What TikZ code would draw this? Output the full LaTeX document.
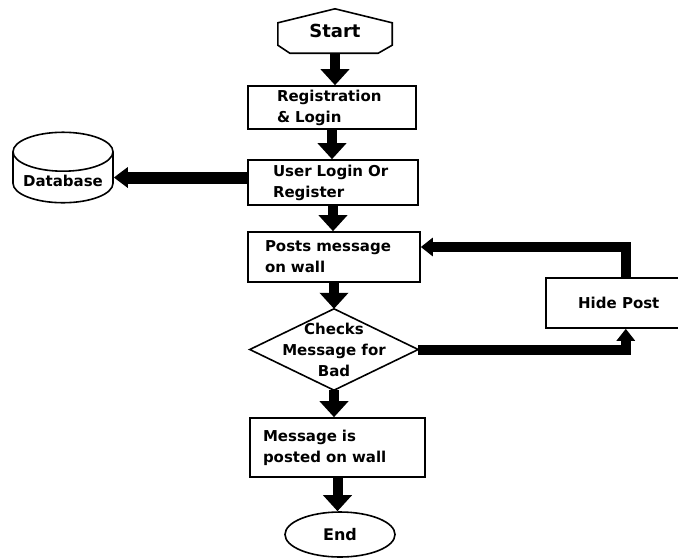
\documentclass[tikz,border=0pt]{standalone}
\usepackage{fontspec}
\setmainfont{DejaVu Sans}
\usetikzlibrary{positioning,arrows.meta,shapes.geometric}

\begin{document}
\begin{tikzpicture}[
    x=1pt, y=-1pt,
    font=\bfseries\fontsize{15}{21}\selectfont,
    box/.style={
        draw,
        line width=1.6pt,
        align=left,
        inner ysep=3pt
    },
    outline/.style={
        line width=1.6pt
    },
    flow/.style={
        line width=10pt,
        -{Triangle[length=16pt,width=28pt]}
    },
    back/.style={
        line width=10pt,
        -{Triangle[length=12pt,width=18pt]}
    },
    dbarrow/.style={
        line width=12pt,
        -{Triangle[length=14pt,width=20pt]}
    }
]
    \useasboundingbox (0,0) rectangle (678,558);

    % Main flow
    \node[minimum width=114pt, minimum height=44pt, font=\bfseries\fontsize{18}{20}\selectfont] (start) at (335,31) {Start};
    \node[box, text width=110pt, inner xsep=29pt, minimum height=43pt] (reg) at (332,107.5) {Registration\\\& Login};
    \node[box, text width=120pt, inner xsep=25pt, minimum height=45pt] (user) at (333,182.5) {User Login Or\\Register};
    \node[box, text width=138pt, inner xsep=17pt, minimum height=50pt] (posts) at (334,257) {Posts message\\on wall};
    \node[minimum width=168pt, minimum height=81pt, align=center, inner sep=0pt] (check) at (334,349.5) {Checks\\Message for\\Bad};
    \node[box, text width=149pt, inner xsep=13pt, minimum height=59pt] (msg) at (337.5,447.5) {Message is\\posted on wall};
    \node[draw, ellipse, outline, minimum width=110pt, minimum height=45pt, font=\bfseries\fontsize{16}{18}\selectfont] (stop) at (340,534.5) {End};

    % Side nodes
    \node[draw, cylinder, shape border rotate=90, aspect=0.45, outline, minimum width=100pt, minimum height=46pt, anchor=shape center] (db) at (63,167.5) {Database};
    \node[box, minimum width=146pt, minimum height=50pt, anchor=west] (hide) at (545,303) {Hide Post};

    % Outlines of start and decision
    \draw[outline] (start.north) -- ([yshift=-14pt]start.north east) -- ([yshift=8pt]start.south east)
        -- ([xshift=-14pt]start.south east) -- ([xshift=12pt]start.south west)
        -- ([yshift=8pt]start.south west) -- ([yshift=-14pt]start.north west) -- cycle;
    \draw[outline] (check.west) -- (check.north) -- (check.east) -- (check.south) -- cycle;

    % Connecting arrows
    \draw[flow] (start.south) -- (start.south |- reg.north);
    \draw[flow] (reg.south) -- (reg.south |- user.north);
    \draw[flow] (user.south) -- (user.south |- posts.north);
    \draw[flow] (posts.south) -- (posts.south |- check.north);
    \draw[flow] (check.south) -- (check.south |- msg.north);
    \draw[flow] (msg.south) -- (msg.south |- stop.north);
    \draw[dbarrow] ([yshift=5pt]user.west) -- ([yshift=5pt]user.west -| db.east);

    % Loop back through hide post
    \draw[back] (check.east) -| ([xshift=7pt]hide.south);
    \draw[back] ([xshift=7pt]hide.north) |- ([yshift=10pt]posts.east);
\end{tikzpicture}
\end{document}
